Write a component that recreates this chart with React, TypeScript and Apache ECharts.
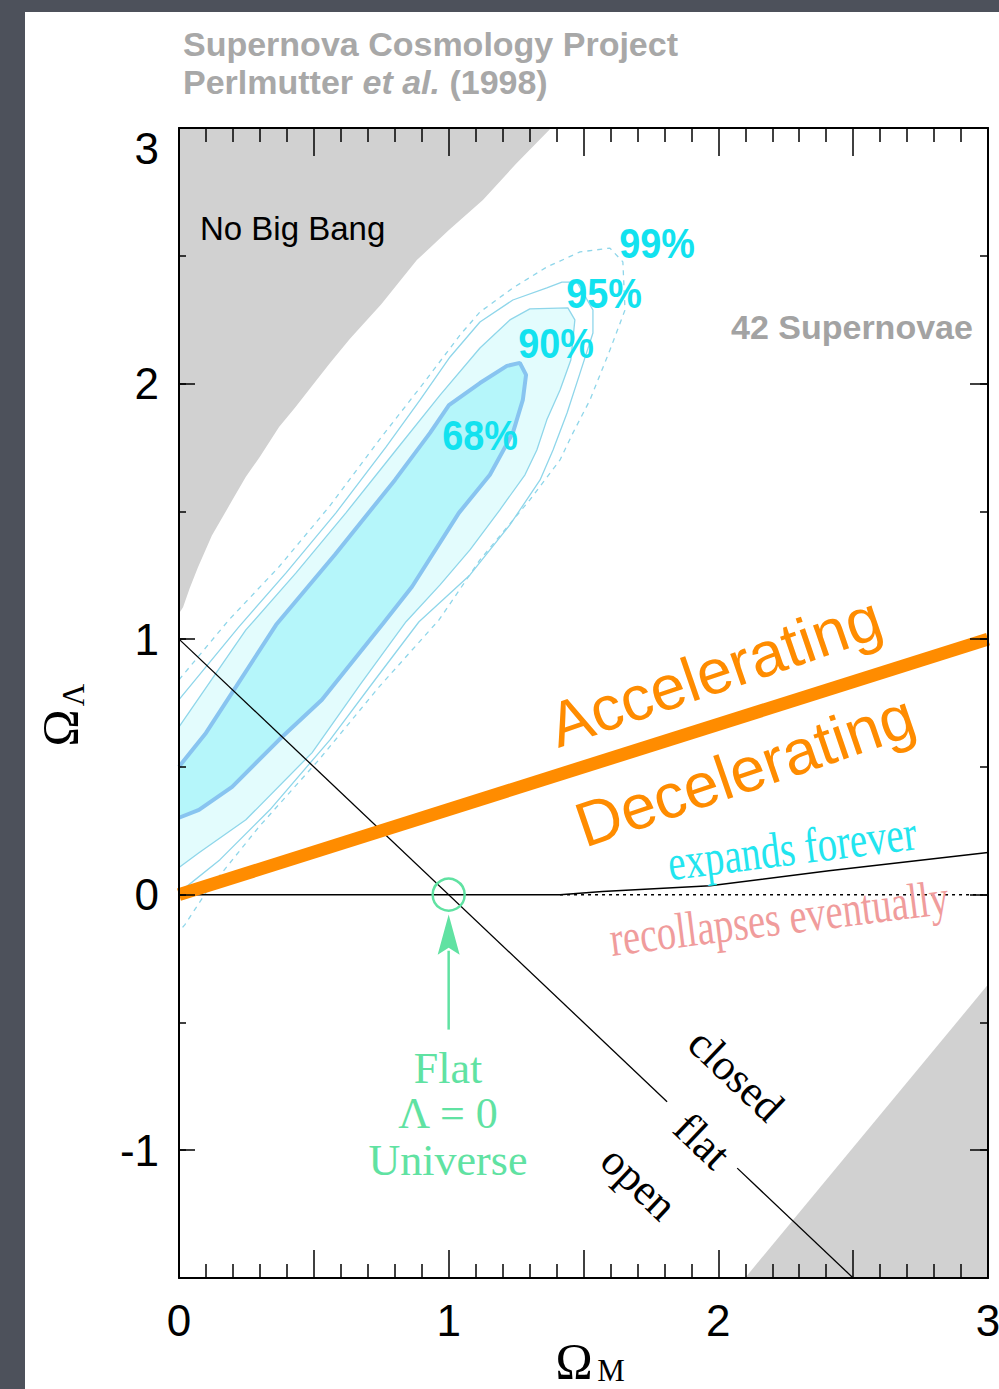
import React, { useEffect, useRef } from 'react';
import * as echarts from 'echarts';

// ---------- data (Ω_M, Ω_Λ) ----------
const noBigBang: number[][] = [
  [0, 3], [1.38, 3], [1.25, 2.86], [1.127, 2.718], [1.0, 2.6], [0.882, 2.483], [0.75, 2.31],
  [0.634, 2.175], [0.56, 2.08], [0.493, 1.99], [0.43, 1.905], [0.371, 1.83], [0.3, 1.714],
  [0.248, 1.635], [0.2, 1.548], [0.122, 1.405], [0.07, 1.28], [0.04, 1.2], [0.015, 1.125], [0, 1.1],
];
const bottomRegion: number[][] = [[2.099, -1.5], [3, -1.5], [3, -0.352]];

const contour68: number[][] = [
  [0, 0.501], [0.1, 0.633], [0.211, 0.813], [0.36, 1.056], [0.578, 1.33], [0.801, 1.623],
  [0.931, 1.807], [1.001, 1.916], [1.116, 2.002], [1.216, 2.069], [1.264, 2.081], [1.287, 2.034],
  [1.275, 1.936], [1.238, 1.807], [1.153, 1.643], [1.038, 1.494], [0.864, 1.205], [0.756, 1.06],
  [0.53, 0.763], [0.371, 0.606], [0.197, 0.422], [0.074, 0.332], [0, 0.301],
];
const contour90: number[][] = [
  [0, 0.657], [0.248, 1.036], [0.434, 1.259], [0.619, 1.494], [0.805, 1.74], [0.968, 1.955],
  [1.116, 2.139], [1.227, 2.249], [1.301, 2.292], [1.442, 2.296], [1.468, 2.249], [1.453, 2.092],
  [1.413, 1.975], [1.364, 1.858], [1.327, 1.74], [1.283, 1.643], [1.19, 1.506], [1.079, 1.349],
  [0.968, 1.212], [0.842, 1.068], [0.671, 0.821], [0.493, 0.555], [0.248, 0.293], [0.074, 0.164],
  [0, 0.106],
];
const contour95: number[][] = [
  [0, 0.763], [0.222, 1.048], [0.397, 1.259], [0.582, 1.494], [0.768, 1.752], [0.894, 1.936],
  [1.005, 2.104], [1.116, 2.241], [1.238, 2.327], [1.364, 2.374], [1.42, 2.397], [1.476, 2.397],
  [1.535, 2.288], [1.535, 2.198], [1.487, 2.041], [1.439, 1.885], [1.387, 1.74], [1.339, 1.623],
  [1.227, 1.447], [1.079, 1.251], [0.89, 1.068], [0.727, 0.841], [0.56, 0.606], [0.337, 0.332],
  [0.152, 0.137], [0, 0.008],
];
const contour99: number[][] = [
  [0, 0.841], [0.185, 1.075], [0.371, 1.283], [0.556, 1.517], [0.742, 1.779], [0.916, 2.014],
  [1.042, 2.19], [1.116, 2.28], [1.238, 2.374], [1.364, 2.456], [1.487, 2.515], [1.598, 2.53],
  [1.646, 2.476], [1.654, 2.288], [1.598, 2.131], [1.524, 1.936], [1.461, 1.807], [1.413, 1.701],
  [1.301, 1.545], [1.116, 1.31], [0.964, 1.075], [0.742, 0.813], [0.519, 0.528], [0.297, 0.266],
  [0.1, 0.008], [0.022, -0.117], [0, -0.145],
];

const flatLineA: number[][] = [[0, 1], [1.81, -0.81]];
const flatLineB: number[][] = [[2.07, -1.07], [2.5, -1.5]];
const zeroLine: number[][] = [[0, 0], [1.413, 0]];
const zeroDotted: number[][] = [[1.413, 0], [3, 0]];
const expandsCurve: number[][] = [[1.413, 0], [1.57, 0.012], [1.97, 0.035], [2.41, 0.094], [3, 0.165]];
const accelLine: number[][] = [[0, 0], [3, 1]];

const flatUniverse = [1, 0];
const arrowTail = [1, -0.528];
const arrowBase = [1, -0.235];
const arrowTip = [1, -0.078];

const xLabels = [0, 1, 2, 3];
const yLabels = [-1, 0, 1, 2, 3];

// ---------- styles ----------
const SANS = '"Liberation Sans", Arial, Helvetica, sans-serif';
const SERIF = '"Liberation Serif", "Times New Roman", serif';
const GREEN = '#60e2a2';
const CYAN_LBL = '#12e2ef';
const CONTOUR_LINE = '#8fd6ea';
const TITLE_GRAY = '#a8a8a8';

function isLabel(v: number, list: number[]) {
  return list.some((t) => Math.abs(t - v) < 1e-6);
}

function polySeries(points: number[][], style: any, z: number, closed: boolean) {
  return {
    type: 'custom',
    coordinateSystem: 'cartesian2d',
    xAxisIndex: 0,
    yAxisIndex: 0,
    silent: true,
    z,
    clip: true,
    data: [[points[0][0], points[0][1]]],
    renderItem: (params: any, api: any) => ({
      type: closed ? 'polygon' : 'polyline',
      shape: { points: points.map((p) => api.coord(p)) },
      style,
    }),
  };
}

function lineSeries(points: number[][], lineStyle: any, z: number) {
  return {
    type: 'line',
    xAxisIndex: 0,
    yAxisIndex: 0,
    data: points,
    showSymbol: false,
    symbol: 'none',
    silent: true,
    z,
    lineStyle,
  };
}

function text(x: number, y: number, t: string, opts: any, extra: any = {}) {
  return {
    type: 'text',
    x,
    y,
    z: 100,
    silent: true,
    ...extra,
    style: {
      text: t,
      textAlign: 'center',
      align: 'center',
      textVerticalAlign: 'middle',
      verticalAlign: 'middle',
      ...opts,
    },
  };
}

export default function App() {
  const ref = useRef<HTMLDivElement>(null);

  useEffect(() => {
    if (!ref.current) return;
    const chart = echarts.init(ref.current, undefined, { renderer: 'svg', width: 999, height: 1389 });

    const xAxisCfg = (position: string, showLabel: boolean) => ({
      type: 'value',
      min: 0,
      max: 3,
      interval: 0.5,
      position,
      z: 10,
      axisLine: { show: true, onZero: false, lineStyle: { color: '#000', width: 2 } },
      axisTick: { show: true, inside: true, length: 28, lineStyle: { color: '#000', width: 1.5 } },
      minorTick: { show: true, splitNumber: 5, length: 14, lineStyle: { color: '#000', width: 1.5 } },
      splitLine: { show: false },
      minorSplitLine: { show: false },
      axisLabel: {
        show: showLabel,
        color: '#000',
        fontSize: 44,
        fontFamily: SANS,
        margin: 20,
        hideOverlap: false,
        formatter: (v: number) => (isLabel(v, xLabels) ? String(Math.round(v)) : ''),
      },
    });

    const yAxisCfg = (position: string, showLabel: boolean, tickLen: number) => ({
      type: 'value',
      min: -1.5,
      max: 3,
      interval: 0.5,
      position,
      z: 10,
      axisLine: { show: true, onZero: false, lineStyle: { color: '#000', width: 2 } },
      axisTick: { show: true, inside: true, length: tickLen, lineStyle: { color: '#000', width: 1.5 } },
      splitLine: { show: false },
      axisLabel: {
        show: showLabel,
        color: '#000',
        fontSize: 44,
        fontFamily: SANS,
        margin: 20,
        formatter: (v: number) => {
          if (!isLabel(v, yLabels)) return '';
          const r = Math.round(v);
          return r === 3 ? '{t|3}' : String(r);
        },
        rich: { t: { fontSize: 44, fontFamily: SANS, color: '#000', padding: [40, 0, 0, 0] } },
      },
    });

    const yMajorCfg = (position: string, tickLen: number) => ({
      type: 'value',
      min: -1.5,
      max: 3,
      interval: 0.5,
      position,
      z: 10,
      axisLine: { show: false, onZero: false },
      axisTick: {
        show: true,
        inside: true,
        length: tickLen,
        customValues: yLabels,
        lineStyle: { color: '#000', width: 1.5 },
      },
      axisLabel: { show: false },
      splitLine: { show: false },
    });

    const graphics: any[] = [
      text(183, 44, 'Supernova Cosmology Project', {
        textAlign: 'left', align: 'left', fill: TITLE_GRAY, fontSize: 34, fontWeight: 'bold', fontFamily: SANS,
      }),
      text(183, 82, '{n|Perlmutter }{i|et al.}{n| (1998)}', {
        textAlign: 'left', align: 'left', fill: TITLE_GRAY, fontSize: 34, fontWeight: 'bold', fontFamily: SANS,
        rich: {
          n: { fontSize: 34, fontWeight: 'bold', fontFamily: SANS, fill: TITLE_GRAY, color: TITLE_GRAY },
          i: { fontSize: 34, fontWeight: 'bold', fontStyle: 'italic', fontFamily: SANS, fill: TITLE_GRAY, color: TITLE_GRAY },
        },
      }),
      text(200, 228, 'No Big Bang', { textAlign: 'left', align: 'left', fill: '#000', fontSize: 33, fontFamily: SANS }),
      text(731, 327, '42 Supernovae', {
        textAlign: 'left', align: 'left', fill: '#a3a3a3', fontSize: 34, fontWeight: 'bold', fontFamily: SANS,
      }),
      text(657, 243, '99%', { fill: CYAN_LBL, fontSize: 42, fontWeight: 'bold', fontFamily: SANS }, { scaleX: 0.9 }),
      text(604, 293, '95%', { fill: CYAN_LBL, fontSize: 42, fontWeight: 'bold', fontFamily: SANS }, { scaleX: 0.9 }),
      text(556, 343, '90%', { fill: CYAN_LBL, fontSize: 42, fontWeight: 'bold', fontFamily: SANS }, { scaleX: 0.9 }),
      text(480, 435, '68%', { fill: CYAN_LBL, fontSize: 42, fontWeight: 'bold', fontFamily: SANS }, { scaleX: 0.9 }),
      text(715, 671, 'Accelerating', { fill: '#ff8c00', fontSize: 63, fontFamily: SANS }, { rotation: 0.33 }),
      text(745, 770, 'Decelerating', { fill: '#ff8c00', fontSize: 63, fontFamily: SANS }, { rotation: 0.33 }),
      text(792, 848, 'expands forever', { fill: '#22e5ef', fontSize: 50, fontFamily: SERIF }, { rotation: 0.125, scaleX: 0.78 }),
      text(779, 918, 'recollapses eventually', { fill: '#f09c9c', fontSize: 50, fontFamily: SERIF }, { rotation: 0.125, scaleX: 0.77 }),
      text(736, 1075, 'closed', { fill: '#000', fontSize: 44, fontFamily: SERIF }, { rotation: -0.76 }),
      text(702, 1141, 'flat', { fill: '#000', fontSize: 44, fontFamily: SERIF }, { rotation: -0.76 }),
      text(639, 1183, 'open', { fill: '#000', fontSize: 44, fontFamily: SERIF }, { rotation: -0.76 }),
      text(448, 1068, 'Flat', { fill: GREEN, fontSize: 44, fontFamily: SERIF }),
      text(448, 1113, 'Λ = 0', { fill: GREEN, fontSize: 44, fontFamily: SERIF }),
      text(448, 1160, 'Universe', { fill: GREEN, fontSize: 44, fontFamily: SERIF }),
      text(574, 1361, 'Ω', { fill: '#000', fontSize: 50, fontFamily: SERIF }),
      text(611, 1370, 'M', { fill: '#000', fontSize: 31, fontFamily: SERIF }),
      {
        type: 'group',
        x: 62,
        y: 712,
        rotation: Math.PI / 2,
        z: 100,
        children: [
          text(-16, -2, 'Ω', { fill: '#000', fontSize: 50, fontFamily: SERIF }),
          text(17, 11, 'Λ', { fill: '#000', fontSize: 31, fontFamily: SERIF }),
        ],
      },
    ];

    const annotationSeries = {
      type: 'custom',
      coordinateSystem: 'cartesian2d',
      xAxisIndex: 0,
      yAxisIndex: 0,
      silent: true,
      z: 8,
      data: [[flatUniverse[0], flatUniverse[1]]],
      renderItem: (params: any, api: any) => {
        const c = api.coord(flatUniverse);
        const tail = api.coord(arrowTail);
        const base = api.coord(arrowBase);
        const tip = api.coord(arrowTip);
        return {
          type: 'group',
          children: [
            { type: 'circle', shape: { cx: c[0], cy: c[1], r: 16 }, style: { fill: 'none', stroke: GREEN, lineWidth: 2.5 } },
            { type: 'line', shape: { x1: tail[0], y1: tail[1], x2: base[0], y2: base[1] - 4 }, style: { stroke: GREEN, lineWidth: 2.5 } },
            {
              type: 'polygon',
              shape: { points: [tip, [base[0] - 11, base[1]], [base[0], base[1] - 7], [base[0] + 11, base[1]]] },
              style: { fill: GREEN },
            },
          ],
        };
      },
    };

    chart.setOption({
      animation: false,
      backgroundColor: 'transparent',
      grid: { left: 179, top: 128, right: 11, bottom: 111, containLabel: false, outerBoundsMode: 'none' },
      xAxis: [xAxisCfg('bottom', true), xAxisCfg('top', false)],
      yAxis: [yAxisCfg('left', true, 7), yAxisCfg('right', false, 8), yMajorCfg('left', 16), yMajorCfg('right', 18)],
      series: [
        polySeries(noBigBang, { fill: '#d1d1d1' }, 1, true),
        polySeries(bottomRegion, { fill: '#d1d1d1' }, 1, true),
        polySeries(contour90, { fill: '#e3fcfd' }, 2, true),
        polySeries(contour68, { fill: '#b5f6fa' }, 3, true),
        lineSeries(contour99, { color: CONTOUR_LINE, width: 1.3, type: [5, 5] }, 4),
        lineSeries(contour95, { color: CONTOUR_LINE, width: 1.3 }, 4),
        lineSeries(contour90, { color: CONTOUR_LINE, width: 1.3 }, 4),
        lineSeries(contour68, { color: '#88c4f0', width: 4 }, 5),
        lineSeries(flatLineA, { color: '#000', width: 1.3 }, 6),
        lineSeries(flatLineB, { color: '#000', width: 1.3 }, 6),
        lineSeries(zeroLine, { color: '#000', width: 1.5 }, 6),
        lineSeries(zeroDotted, { color: '#000', width: 1.5, type: [3, 4] }, 6),
        lineSeries(expandsCurve, { color: '#000', width: 1.5 }, 6),
        annotationSeries,
        lineSeries(accelLine, { color: '#ff8c00', width: 13, cap: 'butt' }, 9),
      ],
      graphic: { elements: graphics },
    });

    return () => chart.dispose();
  }, []);

  return (
    <div style={{ position: 'fixed', left: 0, top: 0, width: 999, height: 1389, background: '#4d515b', overflow: 'hidden' }}>
      <div style={{ position: 'absolute', left: 25, top: 12, right: 0, bottom: 0, background: '#ffffff' }} />
      <div ref={ref} style={{ position: 'absolute', left: 0, top: 0, width: 999, height: 1389 }} />
    </div>
  );
}
